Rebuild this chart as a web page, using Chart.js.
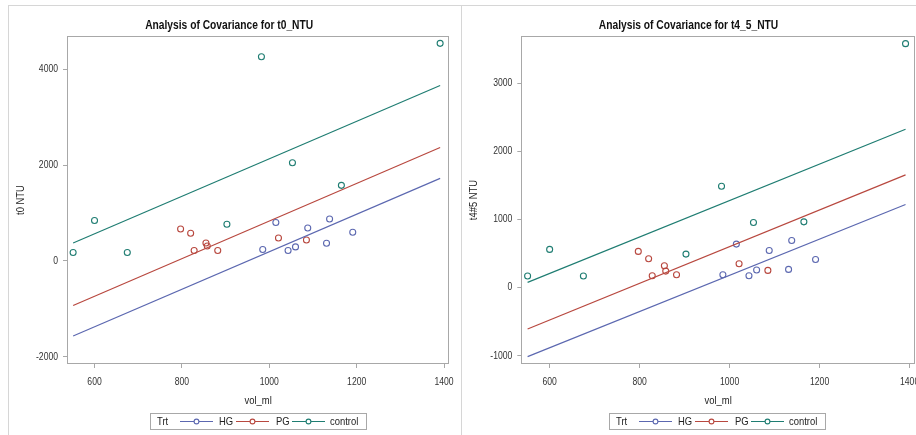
<!DOCTYPE html>
<html>
<head>
<meta charset="utf-8">
<script src="https://cdn.jsdelivr.net/npm/chart.js@4.4.1/dist/chart.umd.min.js"></script>
<style>
  html, body { margin: 0; padding: 0; background: #fff; }
  body { width: 916px; height: 435px; position: relative; overflow: hidden;
         font-family: 'Liberation Sans', Arial, sans-serif; }
  .hline { position: absolute; left: 8px; top: 5px; width: 908px; height: 1px; background: #d6d6d6; }
  .vline { position: absolute; top: 5px; width: 1px; height: 430px; background: #d6d6d6; }
  canvas { position: absolute; }
  .legend { position: absolute; top: 413px; width: 217px; height: 17px; border: 1px solid #a8a8a8;
            box-sizing: border-box; font-size: 11.5px; color: #222; }
  .legend span { position: absolute; top: 1px; line-height: 13px; white-space: nowrap;
                 display: inline-block; transform: scaleX(0.82); transform-origin: 0 50%; }
  .legend svg { position: absolute; top: 3px; }
</style>
</head>
<body>
<div class="hline"></div>
<div class="vline" style="left:8px"></div>
<div class="vline" style="left:461px"></div>
<canvas id="c1" width="452" height="429" style="left:9px;top:6px"></canvas>
<canvas id="c2" width="454" height="429" style="left:462px;top:6px"></canvas>
<div class="legend" id="lg1" style="left:150px"></div>
<div class="legend" id="lg2" style="left:609px"></div>
<script>
// ---------- data ----------
const groups = ['HG', 'PG', 'control'];
const legendTitle = 'Trt';
const volHG   = [985, 1015, 1043, 1060, 1088, 1131, 1138, 1191];
const volPG   = [797, 820, 828, 855, 858, 882, 1021, 1085];
const volCtrl = [551, 600, 675, 903, 982, 1053, 1165, 1391];

const t0HG   = [237, 800, 217, 292, 688, 369, 875, 598];
const t0PG   = [667, 577, 217, 375, 312, 217, 479, 437];
const t0Ctrl = [175, 842, 175, 765, 4262, 2048, 1577, 4541];

const t45HG   = [188, 638, 173, 257, 545, 267, 692, 413];
const t45PG   = [531, 422, 173, 320, 242, 188, 349, 252];
const t45Ctrl = [169, 560, 169, 491, 1488, 956, 965, 3581];

// fitted ANCOVA lines (endpoints at min and max vol_ml)
const fitX = [551, 1391];
const t0FitHG   = [-1569, 1723];
const t0FitPG   = [-930, 2368];
const t0FitCtrl = [375, 3660];
const t45FitHG   = [-1014, 1220];
const t45FitPG   = [-608, 1654];
const t45FitCtrl = [76, 2324];

const xTicks   = [600, 800, 1000, 1200, 1400];
const t0Ticks  = [-2000, 0, 2000, 4000];
const t45Ticks = [-1000, 0, 1000, 2000, 3000];

const titles = ['Analysis of Covariance for t0_NTU', 'Analysis of Covariance for t4_5_NTU'];
const yTitles = ['t0 NTU', 't4#5 NTU'];
const xTitle = 'vol_ml';

// ---------- styling ----------
const colors = ['#5c68b0', '#b8483f', '#1f7d72'];
const FONT = "'Liberation Sans', Arial, sans-serif";
const SX = 0.82; // horizontal text condensing (narrow sans look)
Chart.defaults.font.family = FONT;
Chart.defaults.color = '#333';

const condensePlugin = {
  id: 'condense',
  beforeInit(chart) {
    const ctx = chart.ctx;
    const orig = ctx.fillText.bind(ctx);
    ctx.fillText = function (t, x, y, mw) {
      this.save();
      this.translate(x, y);
      this.scale(SX, 1);
      if (mw !== undefined) orig(t, 0, 0, mw / SX); else orig(t, 0, 0);
      this.restore();
    };
  }
};

const framePlugin = {
  id: 'frame',
  beforeDatasetsDraw(chart) {
    const a = chart.chartArea, ctx = chart.ctx;
    ctx.save();
    ctx.strokeStyle = '#a8a8a8';
    ctx.lineWidth = 1;
    ctx.strokeRect(Math.round(a.left) + 0.5, Math.round(a.top) + 0.5,
                   Math.round(a.right - a.left) - 1, Math.round(a.bottom - a.top) - 1);
    ctx.restore();
  }
};

function pairs(xs, ys) { return xs.map((x, i) => ({ x: x, y: ys[i] })); }

function makeChart(id, cfg) {
  const vols = [volHG, volPG, volCtrl];
  const datasets = [];
  groups.forEach((g, i) => {
    datasets.push({
      type: 'line', label: g + ' fit', data: pairs(fitX, cfg.fits[i]),
      borderColor: colors[i], borderWidth: 1.2, pointRadius: 0, fill: false, tension: 0
    });
  });
  groups.forEach((g, i) => {
    datasets.push({
      type: 'scatter', label: g, data: pairs(vols[i], cfg.ys[i]),
      borderColor: colors[i], backgroundColor: 'rgba(0,0,0,0)',
      pointRadius: 3, pointBorderWidth: 1.1, pointStyle: 'circle'
    });
  });
  return new Chart(document.getElementById(id), {
    type: 'scatter',
    data: { datasets },
    plugins: [condensePlugin, framePlugin],
    options: {
      responsive: false, animation: false, devicePixelRatio: 1,
      layout: { autoPadding: false, padding: { left: 0, right: cfg.padRight, top: 0, bottom: cfg.padBottom } },
      plugins: {
        legend: { display: false }, tooltip: { enabled: false },
        title: { display: true, text: cfg.title, color: '#111',
                 font: { size: 12.5, weight: 'bold', family: FONT, lineHeight: 1.2 },
                 padding: { top: 12.5, bottom: 2.5 } }
      },
      scales: {
        x: {
          type: 'linear', min: 537, max: cfg.xMax,
          afterBuildTicks: s => { s.ticks = xTicks.map(v => ({ value: v })); },
          afterFit: s => { s.height = 44; s.paddingLeft = 0; s.paddingRight = 0; },
          grid: { drawOnChartArea: false, drawTicks: true, tickLength: 4, tickColor: '#a8a8a8' },
          border: { display: false },
          ticks: { padding: 7.5, font: { size: 10.5 }, color: '#333', maxRotation: 0, autoSkip: false,
                   callback: v => String(v) },
          title: { display: true, text: xTitle, color: '#222', font: { size: 11.5 }, padding: { top: 0, bottom: 0 } }
        },
        y: {
          type: 'linear', min: cfg.yMin, max: cfg.yMax,
          afterBuildTicks: s => { s.ticks = cfg.yTicks.map(v => ({ value: v })); },
          afterFit: s => { s.width = cfg.yWidth; s.paddingTop = 0; s.paddingBottom = 0; },
          grid: { drawOnChartArea: false, drawTicks: true, tickLength: 4, tickColor: '#a8a8a8' },
          border: { display: false },
          ticks: { padding: 5, font: { size: 10.5 }, color: '#333', autoSkip: false,
                   callback: v => String(v) },
          title: { display: true, text: cfg.yTitle, color: '#222', font: { size: 11.5 }, padding: { top: 5, bottom: 0 } }
        }
      }
    }
  });
}

makeChart('c1', {
  title: titles[0], yTitle: yTitles[0],
  ys: [t0HG, t0PG, t0Ctrl], fits: [t0FitHG, t0FitPG, t0FitCtrl],
  yMin: -2152, yMax: 4694, yTicks: t0Ticks, xMax: 1412,
  yWidth: 58, padRight: 11.7, padBottom: 27
});
makeChart('c2', {
  title: titles[1], yTitle: yTitles[1],
  ys: [t45HG, t45PG, t45Ctrl], fits: [t45FitHG, t45FitPG, t45FitCtrl],
  yMin: -1122, yMax: 3693, yTicks: t45Ticks, xMax: 1412,
  yWidth: 59.3, padRight: 1, padBottom: 27
});

// ---------- legends (HTML) ----------
const legendSymX = [29, 85, 141];
const legendTxtX = [68, 125, 179];
function buildLegend(id) {
  const el = document.getElementById(id);
  const t = document.createElement('span');
  t.textContent = legendTitle; t.style.left = '6px';
  el.appendChild(t);
  const ns = 'http://www.w3.org/2000/svg';
  groups.forEach((g, i) => {
    const svg = document.createElementNS(ns, 'svg');
    svg.setAttribute('width', '33'); svg.setAttribute('height', '9');
    svg.style.left = legendSymX[i] + 'px';
    const ln = document.createElementNS(ns, 'line');
    ln.setAttribute('x1', '0'); ln.setAttribute('x2', '33');
    ln.setAttribute('y1', '4.5'); ln.setAttribute('y2', '4.5');
    ln.setAttribute('stroke', colors[i]); ln.setAttribute('stroke-width', '1.2');
    const c = document.createElementNS(ns, 'circle');
    c.setAttribute('cx', '16.5'); c.setAttribute('cy', '4.5'); c.setAttribute('r', '2.4');
    c.setAttribute('fill', '#fff'); c.setAttribute('stroke', colors[i]); c.setAttribute('stroke-width', '1.1');
    svg.appendChild(ln); svg.appendChild(c);
    el.appendChild(svg);
    const s = document.createElement('span');
    s.textContent = g; s.style.left = legendTxtX[i] + 'px';
    el.appendChild(s);
  });
}
buildLegend('lg1');
buildLegend('lg2');
</script>
</body>
</html>
